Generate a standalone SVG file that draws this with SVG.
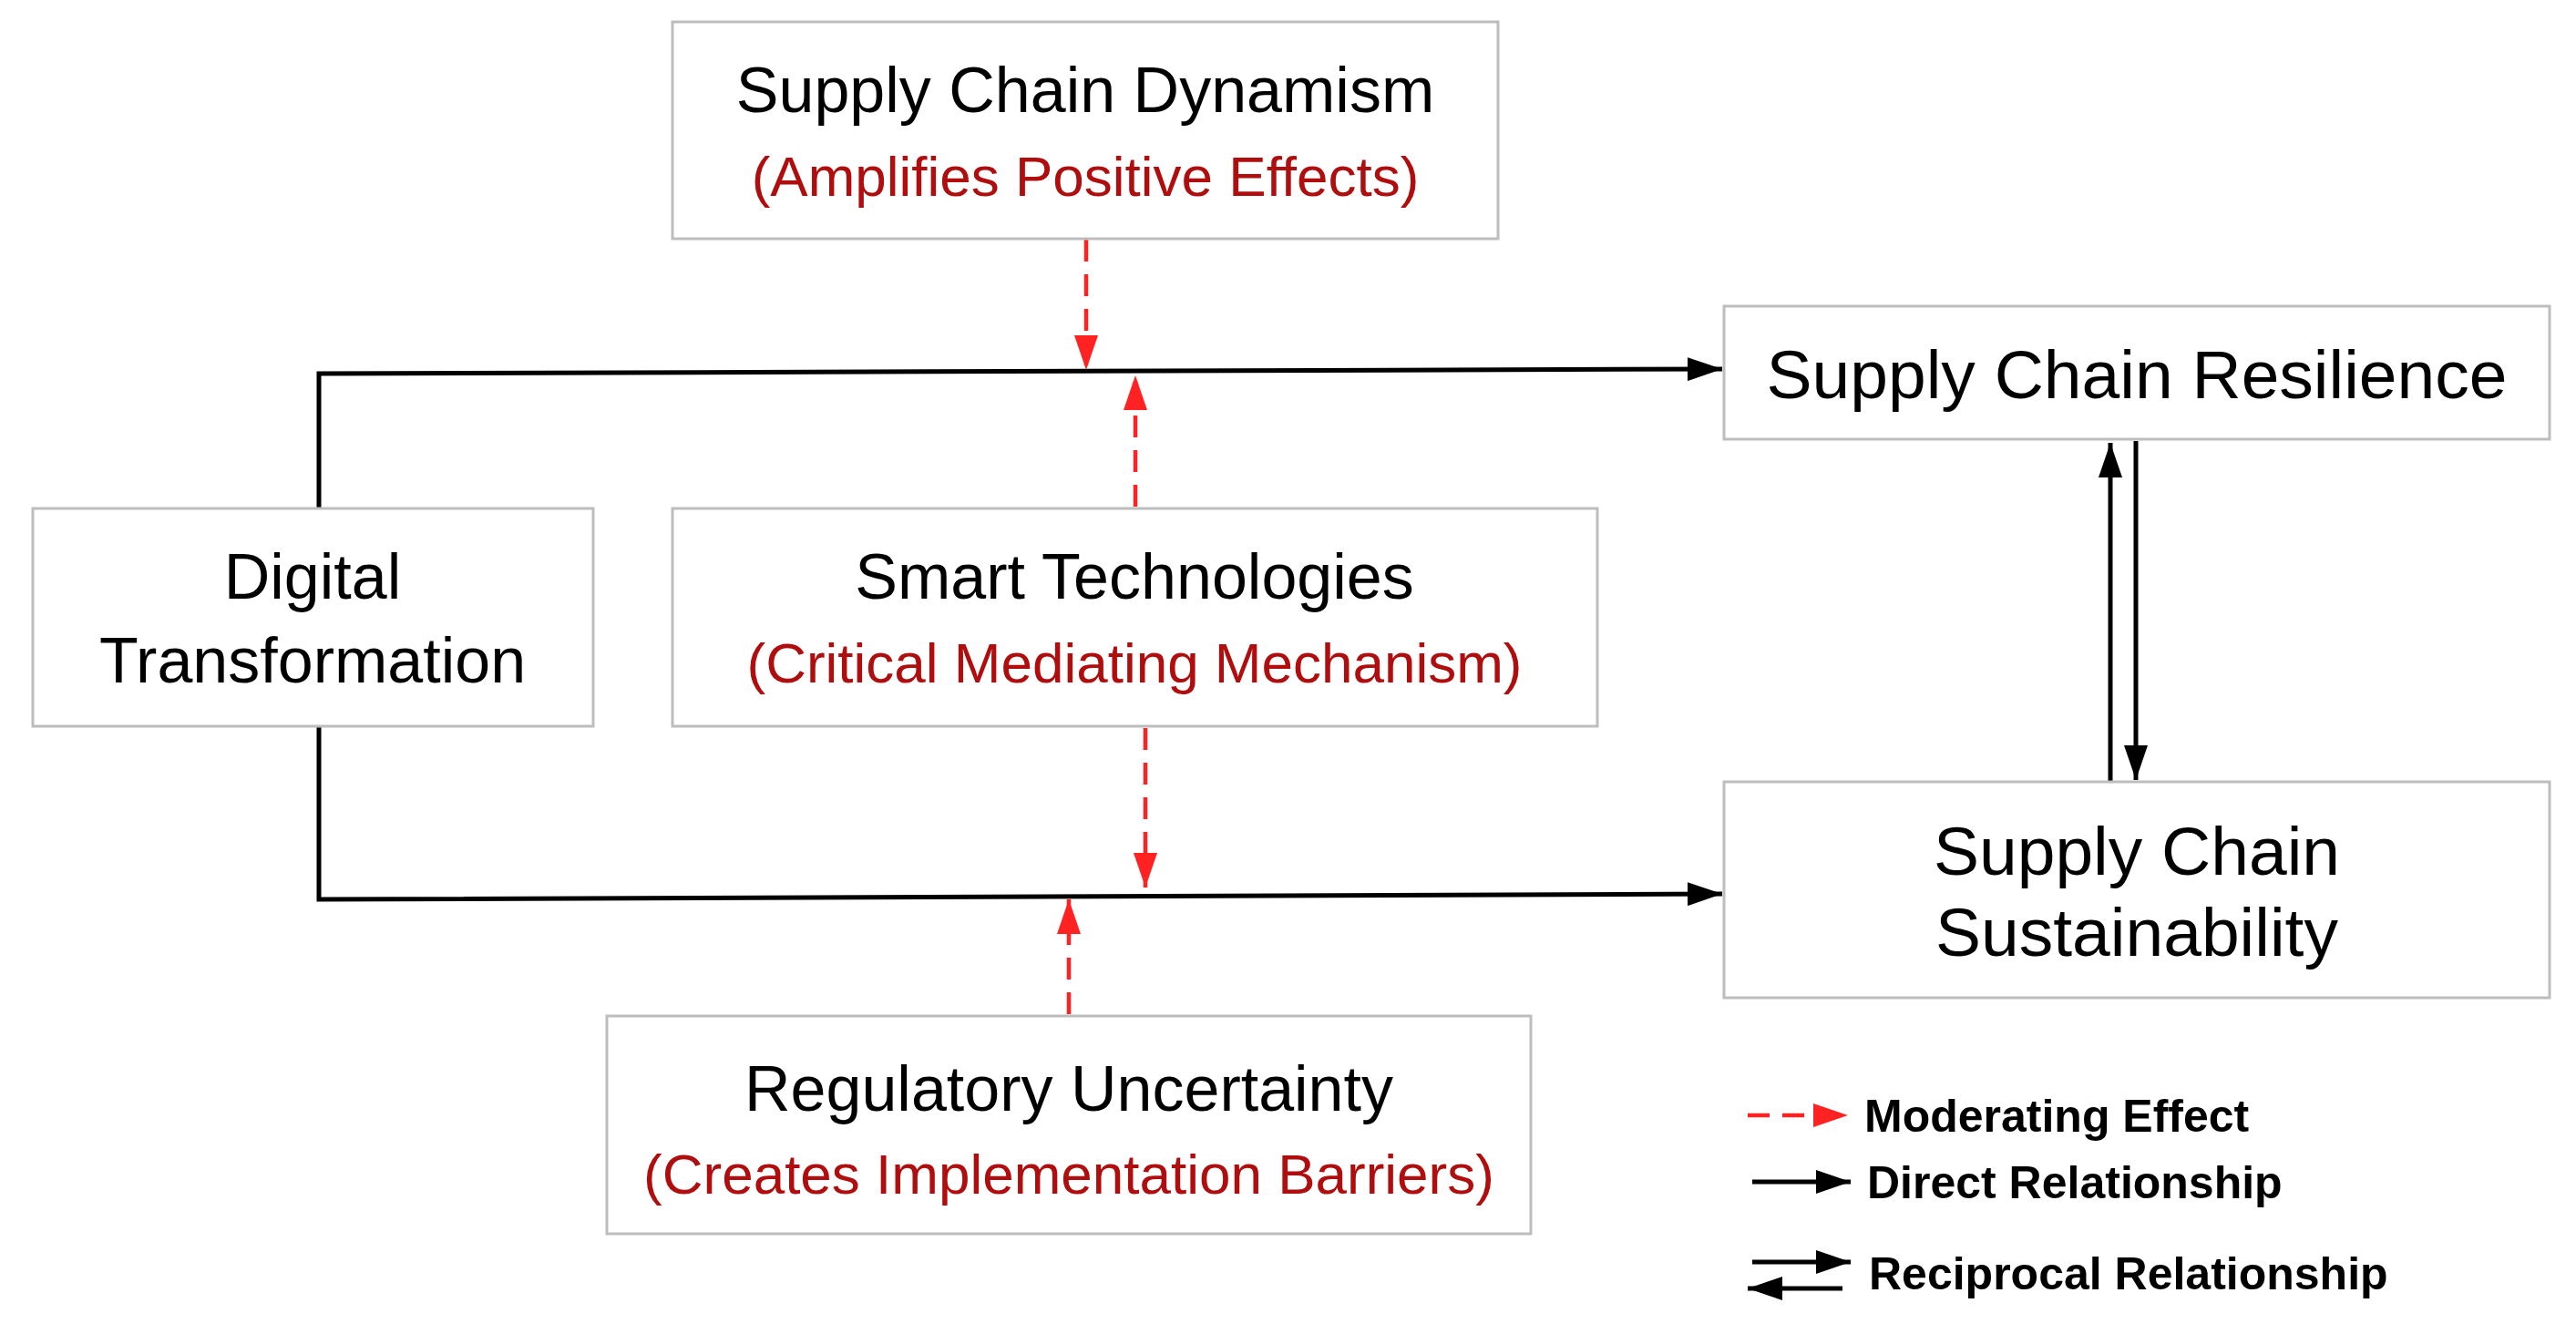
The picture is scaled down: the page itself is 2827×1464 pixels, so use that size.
<svg xmlns="http://www.w3.org/2000/svg" width="2827" height="1464" viewBox="0 0 2827 1464">
<style>
.box{fill:#fff;stroke:#bdbdbd;stroke-width:3}
.t{font-family:"Liberation Sans",Arial,sans-serif;font-size:70px;fill:#000;text-anchor:middle}
.r{font-family:"Liberation Sans",Arial,sans-serif;font-size:62px;fill:#b00e0e;text-anchor:middle}
.t2{font-family:"Liberation Sans",Arial,sans-serif;font-size:75px;fill:#000;text-anchor:middle}
.lg{font-family:"Liberation Sans",Arial,sans-serif;font-size:50px;font-weight:bold;fill:#000}
.k{stroke:#000;stroke-width:5;fill:none}
.d{stroke:#ff2222;stroke-width:4.5;fill:none;stroke-dasharray:24 14}
</style>
<defs>
<marker id="ak" markerUnits="userSpaceOnUse" markerWidth="40" markerHeight="26" refX="38" refY="13" orient="auto"><path d="M0,0 L38,13 L0,26 Z" fill="#000"/></marker>
<marker id="ar" markerUnits="userSpaceOnUse" markerWidth="40" markerHeight="26" refX="38" refY="13" orient="auto"><path d="M0,0 L38,13 L0,26 Z" fill="#ff2222"/></marker>
</defs>
<rect width="2827" height="1464" fill="#fff"/>
<g id="connectors">
<path class="k" d="M350,558 L350,410 L1890,405" marker-end="url(#ak)"/>
<path class="k" d="M350,797 L350,987 L1890,981" marker-end="url(#ak)"/>
<path class="k" d="M2316,857 L2316,486" marker-end="url(#ak)"/>
<path class="k" d="M2344,484 L2344,856" marker-end="url(#ak)"/>
<path class="d" d="M1192,263 L1192,406" marker-end="url(#ar)"/>
<path class="d" d="M1246,556 L1246,412" marker-end="url(#ar)"/>
<path class="d" d="M1257,799 L1257,974" marker-end="url(#ar)"/>
<path class="d" d="M1173,1113 L1173,987" marker-end="url(#ar)"/>
</g>
<g id="dynamism"><rect class="box" x="738" y="24" width="906" height="238"/>
<text class="t" x="1191" y="123">Supply Chain Dynamism</text>
<text class="r" x="1191" y="215">(Amplifies Positive Effects)</text></g>
<g id="digital"><rect class="box" x="36" y="558" width="615" height="239"/>
<text class="t" x="343" y="657">Digital</text>
<text class="t" x="343" y="749">Transformation</text></g>
<g id="smart"><rect class="box" x="738" y="558" width="1015" height="239"/>
<text class="t" x="1245" y="657">Smart Technologies</text>
<text class="r" x="1245" y="749">(Critical Mediating Mechanism)</text></g>
<g id="regulatory"><rect class="box" x="666" y="1115" width="1014" height="239"/>
<text class="t" x="1173" y="1219">Regulatory Uncertainty</text>
<text class="r" x="1173" y="1310">(Creates Implementation Barriers)</text></g>
<g id="resilience"><rect class="box" x="1892" y="336" width="906" height="146"/>
<text class="t2" x="2345" y="437">Supply Chain Resilience</text></g>
<g id="sustainability"><rect class="box" x="1892" y="858" width="906" height="237"/>
<text class="t2" x="2345" y="960">Supply Chain</text>
<text class="t2" x="2345" y="1049">Sustainability</text></g>
<g id="legend">
<path class="d" d="M1918,1224 L2028,1224" stroke-dasharray="22 18" marker-end="url(#ar)"/>
<text class="lg" x="2046" y="1242">Moderating Effect</text>
<path class="k" d="M1923,1297 L2031,1297" marker-end="url(#ak)"/>
<text class="lg" x="2049" y="1315">Direct Relationship</text>
<path class="k" d="M1923,1385 L2031,1385" marker-end="url(#ak)"/>
<path class="k" d="M2022,1414 L1918,1414" marker-end="url(#ak)"/>
<text class="lg" x="2051" y="1415">Reciprocal Relationship</text>
</g>
</svg>
